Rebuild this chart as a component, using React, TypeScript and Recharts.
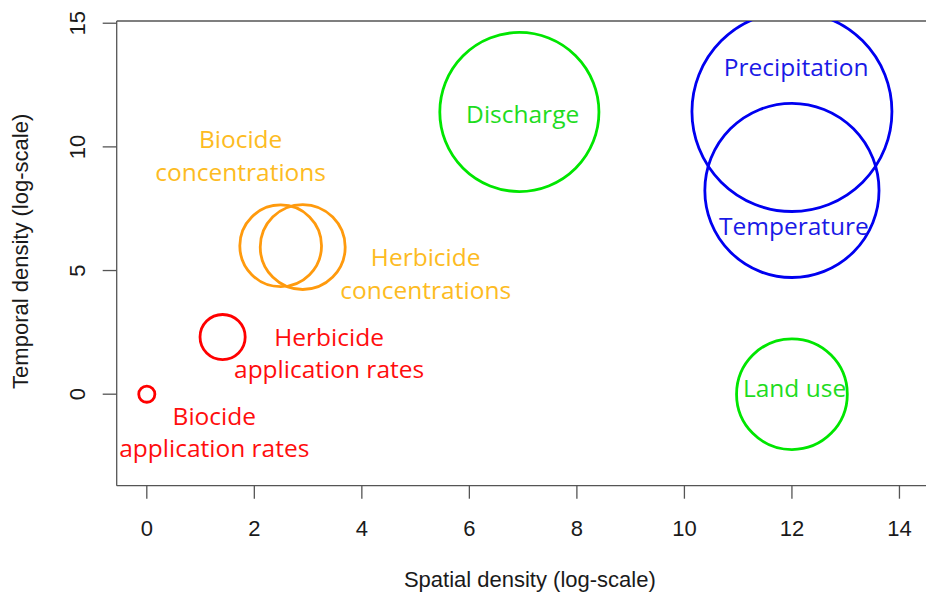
import React from 'react';
import { ScatterChart, Scatter, XAxis, YAxis, ZAxis, ReferenceLine } from 'recharts';

// Variables placed by how densely they are sampled in space and time
const variables = [
  'Biocide\napplication rates',
  'Herbicide\napplication rates',
  'Biocide\nconcentrations',
  'Herbicide\nconcentrations',
  'Discharge',
  'Precipitation',
  'Temperature',
  'Land use',
];
const spatialDensity = [0, 1.41, 2.49, 2.9, 6.93, 12, 12, 12];
const temporalDensity = [0, 2.31, 6.0, 5.95, 11.41, 11.43, 8.24, 0];
// Circle radius, in units of the spatial axis
const circleRadius = [0.15, 0.42, 0.76, 0.79, 1.48, 1.86, 1.62, 1.03];
const variableGroup = ['input', 'input', 'concentration', 'concentration', 'catchment', 'weather', 'weather', 'catchment'];

const xTicks = [0, 2, 4, 6, 8, 10, 12, 14];
const yTicks = [0, 5, 10, 15];
const X_DOMAIN: [number, number] = [-0.56, 14.81];
const Y_DOMAIN: [number, number] = [-3.7, 15.09];

// Chart geometry
const CHART_W = 944;
const CHART_H = 586;
const Y_AXIS_W = 108.7;
const X_AXIS_H = 108.3;
const MARGIN = { top: 13, right: 9, bottom: 0, left: 0 };
const PLOT_W = CHART_W - Y_AXIS_W - MARGIN.right;
const PX_PER_X = PLOT_W / (X_DOMAIN[1] - X_DOMAIN[0]);
const R_MAX = 2;

const AXIS_COLOR = '#555';
const TEXT_COLOR = '#1a1a1a';
const AXIS_FONT = '"Liberation Sans", Arial, sans-serif';
const LABEL_FONT = '"Open Sans", Lato, sans-serif';
const LABEL_SIZE = 24.5;
const LINE_GAP = 32.5;

const GROUP_STYLE: Record<string, { stroke: string; text: string }> = {
  input: { stroke: '#ff0000', text: '#ff0d0d' },
  concentration: { stroke: '#ff9a0d', text: '#fdbb22' },
  catchment: { stroke: '#00e600', text: '#1edc1e' },
  weather: { stroke: '#0000f0', text: '#1a1ae6' },
};

// Label placement relative to each circle centre (px): horizontal centre, first baseline
const LABEL_LAYOUT: Record<string, { dx: number; dy: number }> = {
  'Biocide\napplication rates': { dx: 67.5, dy: 30.7 },
  'Herbicide\napplication rates': { dx: 106.5, dy: 8.5 },
  'Biocide\nconcentrations': { dx: -40, dy: -97.5 },
  'Herbicide\nconcentrations': { dx: 123, dy: 19.2 },
  Discharge: { dx: 3.3, dy: 11.1 },
  Precipitation: { dx: 4.2, dy: -35.6 },
  Temperature: { dx: 2, dy: 44.5 },
  'Land use': { dx: 2.6, dy: 3.3 },
};

const data = variables.map((name, i) => ({
  name,
  x: spatialDensity[i],
  y: temporalDensity[i],
  r: circleRadius[i],
  group: variableGroup[i],
}));

function Bubble(props: any) {
  const { cx, cy, payload } = props;
  const r = typeof props.size === 'number' ? props.size : Math.PI * Math.pow((props.width ?? 0) / 2, 2);
  const style = GROUP_STYLE[payload.group];
  const lay = LABEL_LAYOUT[payload.name];
  const lines = String(payload.name).split('\n');
  return (
    <g>
      <circle cx={cx} cy={cy} r={r} fill="none" stroke={style.stroke} strokeWidth={2.8} />
      <text fontFamily={LABEL_FONT} fontSize={LABEL_SIZE} fill={style.text} textAnchor="middle">
        {lines.map((line, i) => (
          <tspan key={i} x={cx + lay.dx} y={cy + lay.dy + i * LINE_GAP}>
            {line}
          </tspan>
        ))}
      </text>
    </g>
  );
}

function XTick(props: any) {
  const { x, y, payload } = props;
  return (
    <text x={x} y={y + 37} textAnchor="middle" fontFamily={AXIS_FONT} fontSize={22} fill={TEXT_COLOR}>
      {payload.value}
    </text>
  );
}

function YTick(props: any) {
  const { x, y, payload } = props;
  const bx = x - 18;
  return (
    <text
      x={bx}
      y={y}
      transform={`rotate(-90, ${bx}, ${y})`}
      textAnchor="middle"
      fontFamily={AXIS_FONT}
      fontSize={22}
      fill={TEXT_COLOR}
    >
      {payload.value}
    </text>
  );
}

function XTitle(props: any) {
  const vb = props.viewBox;
  return (
    <text x={vb.x + vb.width / 2} y={vb.y + 101} textAnchor="middle" fontFamily={AXIS_FONT} fontSize={22} fill={TEXT_COLOR}>
      Spatial density (log-scale)
    </text>
  );
}

function YTitle(props: any) {
  const vb = props.viewBox;
  const bx = 20;
  const cy = vb.y + vb.height / 2 - 2;
  return (
    <text
      x={bx}
      y={cy}
      transform={`rotate(-90, ${bx}, ${cy})`}
      textAnchor="middle"
      fontFamily={AXIS_FONT}
      fontSize={22}
      fill={TEXT_COLOR}
    >
      Temporal density (log-scale)
    </text>
  );
}

export default function App() {
  return (
    <div style={{ width: 926, height: CHART_H, overflow: 'hidden', background: '#fff' }}>
      <ScatterChart width={CHART_W} height={CHART_H} margin={MARGIN}>
        <XAxis
          type="number"
          dataKey="x"
          domain={X_DOMAIN}
          ticks={xTicks}
          interval={0}
          allowDataOverflow
          height={X_AXIS_H}
          tickSize={13}
          tickMargin={0}
          axisLine={{ stroke: AXIS_COLOR, strokeWidth: 1.3 }}
          tickLine={{ stroke: AXIS_COLOR, strokeWidth: 1.3 }}
          tick={<XTick />}
          label={{ content: <XTitle /> }}
        />
        <YAxis
          type="number"
          dataKey="y"
          domain={Y_DOMAIN}
          ticks={yTicks}
          interval={0}
          allowDataOverflow
          width={Y_AXIS_W}
          tickSize={14}
          tickMargin={0}
          axisLine={{ stroke: AXIS_COLOR, strokeWidth: 1.3 }}
          tickLine={{ stroke: AXIS_COLOR, strokeWidth: 1.3 }}
          tick={<YTick />}
          label={{ content: <YTitle /> }}
        />
        <ZAxis type="number" dataKey="r" domain={[0, R_MAX]} range={[0, R_MAX * PX_PER_X]} />
        <ReferenceLine y={Y_DOMAIN[1]} stroke={AXIS_COLOR} strokeWidth={1.3} />
        <ReferenceLine x={X_DOMAIN[1]} stroke={AXIS_COLOR} strokeWidth={1.3} />
        <Scatter data={data} shape={<Bubble />} isAnimationActive={false} />
      </ScatterChart>
    </div>
  );
}
